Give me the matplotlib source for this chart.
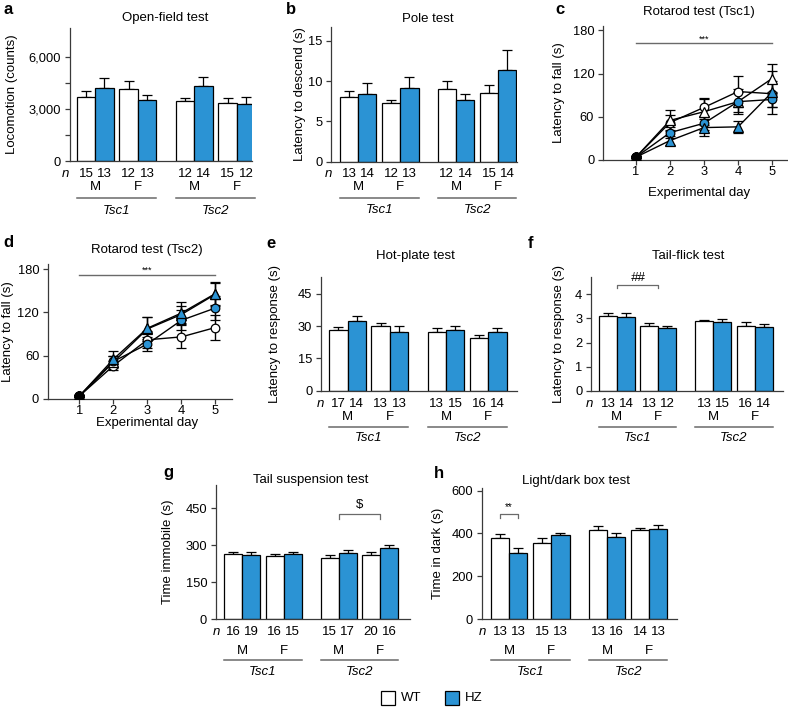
import matplotlib
matplotlib.use('Agg')
import matplotlib.pyplot as plt
from matplotlib.patches import Rectangle
import numpy as np

plt.rcParams['font.family'] = ['Liberation Sans', 'DejaVu Sans']
plt.rcParams['font.size'] = 9.5
FS = 9.5

W, H = 788, 707
fig = plt.figure(figsize=(W / 100, H / 100), dpi=100)

BLUE = '#2b93d4'
SPINE = '#3a3a3a'
GRAYLINE = '#6a6a6a'

# ---------------- data ----------------
genes = ['Tsc1', 'Tsc2']
sexes = ['M', 'F', 'M', 'F']
genotypes = ['WT', 'HZ']

openfield_mean = [3690, 4220, 4180, 3530, 3490, 4330, 3330, 3310]
openfield_sem = [390, 600, 450, 290, 180, 510, 320, 390]
openfield_n = [15, 13, 12, 13, 12, 14, 15, 12]

pole_mean = [7.97, 8.42, 7.26, 9.08, 9.03, 7.67, 8.47, 11.4]
pole_sem = [0.78, 1.28, 0.41, 1.42, 0.96, 0.75, 1.03, 2.4]
pole_n = [13, 14, 12, 13, 12, 14, 15, 14]

hotplate_mean = [28.4, 32.3, 30.0, 27.3, 27.2, 28.1, 24.4, 27.3]
hotplate_sem = [1.3, 2.4, 1.25, 2.7, 2.0, 1.9, 1.4, 1.9]
hotplate_n = [17, 14, 13, 13, 13, 15, 16, 14]

tailflick_mean = [3.11, 3.06, 2.69, 2.61, 2.875, 2.85, 2.69, 2.64]
tailflick_sem = [0.11, 0.18, 0.10, 0.06, 0.055, 0.12, 0.16, 0.12]
tailflick_n = [13, 14, 13, 12, 13, 15, 16, 14]

tailsusp_mean = [263, 260, 257.5, 264, 246.6, 267, 260, 287]
tailsusp_sem = [8, 11, 7, 8, 12, 12, 14, 16]
tailsusp_n = [16, 19, 16, 15, 15, 17, 20, 16]

lightdark_mean = [377, 310, 354, 393, 416, 385, 416, 419]
lightdark_sem = [19, 20, 23, 10, 19, 18, 11, 20]
lightdark_n = [13, 13, 15, 13, 13, 16, 14, 13]

days = [1, 2, 3, 4, 5]
# Rotarod Tsc1 (circle = male, triangle = female)
rot1_wt_m = [4, 52, 73, 95, 92]
rot1_wt_m_sem = [1, 10, 13, 22, 18]
rot1_wt_f = [4, 55, 67, 81, 113]
rot1_wt_f_sem = [1, 15, 18, 14, 20]
rot1_hz_m = [4, 38, 51, 81, 84]
rot1_hz_m_sem = [1, 8, 10, 17, 10]
rot1_hz_f = [4, 27, 45, 46, 94]
rot1_hz_f_sem = [1, 6, 12, 8, 30]

# Rotarod Tsc2
rot2_wt_m = [4, 46, 82, 86, 99]
rot2_wt_m_sem = [1, 6, 12, 16, 17]
rot2_wt_f = [4, 51, 97, 117, 145]
rot2_wt_f_sem = [1, 8, 16, 12, 16]
rot2_hz_m = [4, 52, 76, 109, 126]
rot2_hz_m_sem = [1, 7, 10, 14, 16]
rot2_hz_f = [4, 55, 98, 119, 146]
rot2_hz_f_sem = [1, 11, 15, 15, 16]

# layout of the 8 bars (WT/HZ pairs: Tsc1 M, Tsc1 F, Tsc2 M, Tsc2 F)
bar_pos = [0, 1, 2.3, 3.3, 5.35, 6.35, 7.65, 8.65]


def axes_px(x0, y0, x1, y1):
    return fig.add_axes([x0 / W, 1 - y1 / H, (x1 - x0) / W, (y1 - y0) / H])


def fig_text(x, y, s, **kw):
    kw.setdefault('fontsize', FS)
    return fig.text(x / W, 1 - y / H, s, **kw)


def style_axes(ax):
    for side in ['top', 'right']:
        ax.spines[side].set_visible(False)
    for side in ['left', 'bottom']:
        ax.spines[side].set_color(SPINE)
        ax.spines[side].set_linewidth(0.9)
    ax.tick_params(direction='out', length=3.8, width=0.9, color=SPINE,
                   labelsize=9.3, pad=2.5)


def bar_panel(rect, means, sems, ns, ylim, yticks, yticklabels, xlim,
              row_offsets=(13, 26, 36.5, 48.5), n_x=-1.1):
    x0, y0, x1, y1 = rect
    ax = axes_px(x0, y0, x1, y1)
    style_axes(ax)
    colors = ['white', BLUE] * 4
    ax.bar(bar_pos, means, width=1, color=colors, edgecolor='black',
           linewidth=0.9, zorder=2)
    ax.errorbar(bar_pos, means, yerr=[np.zeros(len(means)), sems], fmt='none',
                ecolor='black', elinewidth=0.9, capsize=3.6, capthick=0.9,
                zorder=1)
    ax.set_xlim(*xlim)
    ax.set_ylim(*ylim)
    ax.set_yticks(yticks)
    ax.set_yticklabels(yticklabels)
    ax.set_xticks([])
    hpx = y1 - y0
    tr = ax.get_xaxis_transform()
    r_n, r_sex, r_line, r_gene = row_offsets
    ax.text(n_x, -r_n / hpx, 'n', transform=tr, ha='center', va='center',
            style='italic', fontsize=FS)
    for p, n in zip(bar_pos, ns):
        ax.text(p, -r_n / hpx, str(n), transform=tr, ha='center',
                va='center', fontsize=FS)
    for i, s in enumerate(sexes):
        c = (bar_pos[2 * i] + bar_pos[2 * i + 1]) / 2
        ax.text(c, -r_sex / hpx, s, transform=tr, ha='center', va='center',
                fontsize=FS)
    for g, gene in enumerate(genes):
        left = bar_pos[4 * g] - 0.5
        right = bar_pos[4 * g + 3] + 0.5
        ax.plot([left, right], [-r_line / hpx] * 2, transform=tr,
                color=GRAYLINE, lw=1.1, clip_on=False)
        ax.text((left + right) / 2, -r_gene / hpx, gene, transform=tr,
                ha='center', va='center', style='italic', fontsize=FS)
    return ax


def bracket(ax, xa, xb, y, ydrop, label, fs=FS, ty=None, style='normal'):
    ax.plot([xa, xa, xb, xb], [ydrop, y, y, ydrop], color=GRAYLINE, lw=0.9,
            clip_on=False)
    ax.text((xa + xb) / 2, ty, label, ha='center', va='center', fontsize=fs,
            style=style)


# ---------------- a: open field ----------------
ax = bar_panel((70, 28, 252, 161), openfield_mean, openfield_sem, openfield_n,
               (0, 7700), [0, 1500, 3000, 4500, 6000],
               ['0', '', '3,000', '', '6,000'], (-0.86, 8.97),
               row_offsets=(13, 25.5, 36.5, 50))
fig_text(12, 94, 'Locomotion (counts)', rotation=90, ha='center', va='center')
fig_text(165.5, 18, 'Open-field test', ha='center', va='center')
fig_text(3, 10, 'a', fontweight='bold', fontsize=12, va='center')

# ---------------- b: pole ----------------
ax = bar_panel((331, 27, 517, 161.7), pole_mean, pole_sem, pole_n,
               (0, 16.7), [0, 5, 10, 15], ['0', '5', '10', '15'],
               (-0.98, 9.18), row_offsets=(12.5, 25.5, 36, 48.5))
fig_text(300.5, 94, 'Latency to descend (s)', rotation=90, ha='center',
         va='center')
fig_text(428, 19, 'Pole test', ha='center', va='center')
fig_text(286, 10, 'b', fontweight='bold', fontsize=12, va='center')


# ---------------- c, d: rotarod ----------------
def rotarod_panel(rect, xlim, ylim, series, sig_y, star_y):
    x0, y0, x1, y1 = rect
    ax = axes_px(x0, y0, x1, y1)
    style_axes(ax)
    ax.tick_params(axis='x', pad=0.8)
    for vals, sem, face, marker in series:
        ax.errorbar(days, vals, yerr=sem, color='black', lw=1.0,
                    elinewidth=1.0, capsize=3.6, capthick=1.0, marker=marker,
                    ms=6.2 if marker == 'o' else 6.8, mfc=face, mec='black',
                    mew=0.9, zorder=3)
        ax.plot(days[:1], vals[:1], marker=marker, ms=6.5, color='black',
                ls='none', zorder=4)
    ax.set_xlim(*xlim)
    ax.set_ylim(*ylim)
    ax.set_xticks(days)
    ax.set_yticks([0, 60, 120, 180])
    ax.plot([days[0], days[-1]], [sig_y, sig_y], color=GRAYLINE, lw=1.0)
    ax.text((days[0] + days[-1]) / 2, star_y, '***', ha='center',
            va='center', fontsize=6.5)
    return ax


series_c = [
    (rot1_wt_m, rot1_wt_m_sem, 'white', 'o'),
    (rot1_wt_f, rot1_wt_f_sem, 'white', '^'),
    (rot1_hz_m, rot1_hz_m_sem, BLUE, 'o'),
    (rot1_hz_f, rot1_hz_f_sem, BLUE, '^'),
]
ax = rotarod_panel((603, 26, 787, 160), (0.03, 5.44), (0, 186), series_c,
                   162, 168)
fig_text(559, 93, 'Latency to fall (s)', rotation=90, ha='center',
         va='center')
fig_text(699, 12, 'Rotarod test (Tsc1)', ha='center', va='center')
fig_text(699, 193, 'Experimental day', ha='center', va='center')
fig_text(555, 10, 'c', fontweight='bold', fontsize=12, va='center')

series_d = [
    (rot2_wt_m, rot2_wt_m_sem, 'white', 'o'),
    (rot2_wt_f, rot2_wt_f_sem, 'white', '^'),
    (rot2_hz_m, rot2_hz_m_sem, BLUE, 'o'),
    (rot2_hz_f, rot2_hz_f_sem, BLUE, '^'),
]
ax = rotarod_panel((48, 264, 232, 399), (0.08, 5.49), (0, 187), series_d,
                   172, 179)
fig_text(8, 332, 'Latency to fall (s)', rotation=90, ha='center',
         va='center')
fig_text(146.7, 250, 'Rotarod test (Tsc2)', ha='center', va='center')
fig_text(146.7, 423, 'Experimental day', ha='center', va='center')
fig_text(3, 242, 'd', fontweight='bold', fontsize=12, va='center')

# ---------------- e: hot plate ----------------
ax = bar_panel((321, 277, 517, 390.7), hotplate_mean, hotplate_sem,
               hotplate_n, (0, 52.8), [0, 15, 30, 45],
               ['0', '15', '30', '45'], (-0.94, 9.71),
               row_offsets=(13.3, 26.3, 36.3, 47.5), n_x=-0.98)
fig_text(275, 334, 'Latency to response (s)', rotation=90, ha='center',
         va='center')
fig_text(415, 255.7, 'Hot-plate test', ha='center', va='center')
fig_text(266, 243, 'e', fontweight='bold', fontsize=12, va='center')

# ---------------- f: tail flick ----------------
ax = bar_panel((591, 277, 783, 390.7), tailflick_mean, tailflick_sem,
               tailflick_n, (0, 4.72), [0, 1, 2, 3, 4],
               ['0', '1', '2', '3', '4'], (-0.94, 9.72),
               row_offsets=(13.3, 26.3, 36.3, 47.5), n_x=-1.0)
bracket(ax, 0.5, 2.8, 4.4, 4.27, '##', ty=4.68, style='italic')
fig_text(559, 334, 'Latency to response (s)', rotation=90, ha='center',
         va='center')
fig_text(688, 255.7, 'Tail-flick test', ha='center', va='center')
fig_text(528, 243, 'f', fontweight='bold', fontsize=12, va='center')

# ---------------- g: tail suspension ----------------
ax = bar_panel((216, 485, 410, 619), tailsusp_mean, tailsusp_sem, tailsusp_n,
               (0, 545), [0, 150, 300, 450], ['0', '150', '300', '450'],
               (-0.96, 9.82), row_offsets=(12.7, 31.7, 41, 53), n_x=-0.95)
bracket(ax, 5.85, 8.15, 427, 408, '$', ty=463)
fig_text(168, 552, 'Time immobile (s)', rotation=90, ha='center',
         va='center')
fig_text(311, 480, 'Tail suspension test', ha='center', va='center')
fig_text(163, 472, 'g', fontweight='bold', fontsize=12, va='center')

# ---------------- h: light/dark ----------------
ax = bar_panel((482, 488, 677, 619), lightdark_mean, lightdark_sem,
               lightdark_n, (0, 612), [0, 200, 400, 600],
               ['0', '200', '400', '600'], (-0.98, 9.67),
               row_offsets=(12.7, 31.7, 41, 53), n_x=-0.97)
bracket(ax, 0, 1, 490, 470, '**', fs=7, ty=522)
fig_text(438.5, 553, 'Time in dark (s)', rotation=90, ha='center',
         va='center')
fig_text(576.5, 480.7, 'Light/dark box test', ha='center', va='center')
fig_text(434, 473, 'h', fontweight='bold', fontsize=12, va='center')

# ---------------- legend ----------------
for (lx, face), name in zip([(381, 'white'), (445, BLUE)], genotypes):
    fig.add_artist(Rectangle((lx / W, 1 - 705 / H), 14 / W, 14 / H,
                             transform=fig.transFigure, facecolor=face,
                             edgecolor='black', lw=0.9))
    fig_text(lx + 20, 698, name, ha='left', va='center')

fig.savefig('out.png', dpi=100)
